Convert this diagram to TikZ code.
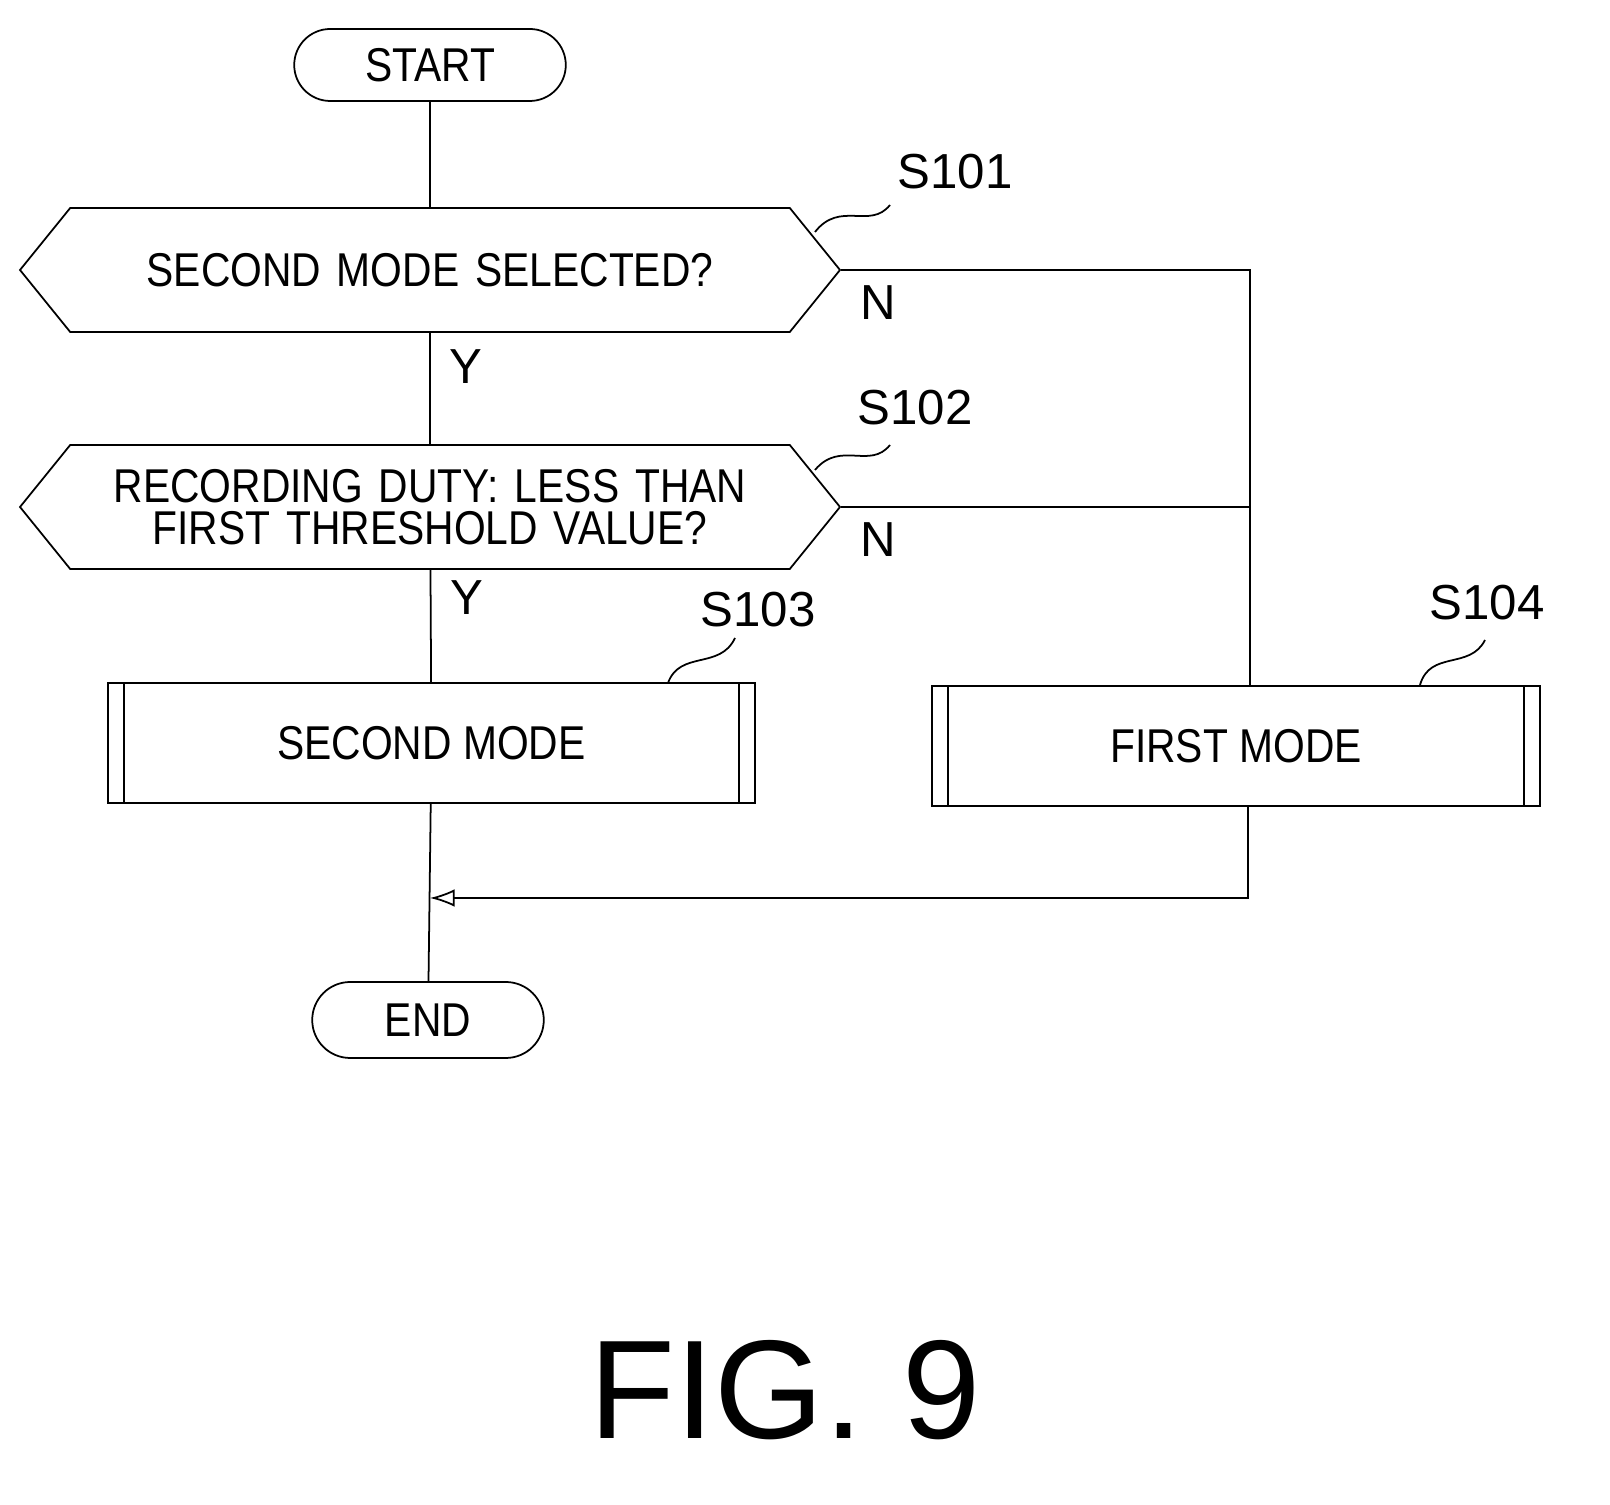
\documentclass[tikz,border=0pt]{standalone}
\usepackage{fontspec}
\setmainfont{Liberation Sans}
\newfontfamily\condfont[FakeStretch=0.86]{Liberation Sans}
\usetikzlibrary{shapes.symbols,shapes.misc,arrows.meta,positioning}
\tikzset{
	flow/.style={draw, line width=0.5pt, font=\condfont\fontsize{13.5}{14}\selectfont},
	term/.style={flow, rounded rectangle, minimum height=0.72cm},
	decide/.style={flow, signal, signal to=east and west, signal pointer angle=102,
		minimum width=8.2cm, minimum height=1.24cm, text width=6.6cm, inner sep=0pt, align=center},
	proc/.style={flow, rectangle, minimum height=1.2cm, inner sep=0pt},
	lbl/.style={font=\fontsize{14}{15}\selectfont},
	lead/.style={line width=0.5pt}
}
\begin{document}
\begin{tikzpicture}[x=1cm, y=1cm]
\useasboundingbox (0,0) rectangle (16.10,-15.05);

\node [term, minimum width=2.95cm] (start) at (4.30,-0.65) {START};
\node [decide] (q1) at (4.30,-2.70) {SECOND MODE SELECTED?};
\node [decide] (q2) at (4.30,-5.07) {RECORDING DUTY: LESS THAN\\[-2pt]FIRST THRESHOLD VALUE?};
\node [proc, minimum width=6.47cm] (m2) at (4.315,-7.43) {SECOND MODE};
\node [proc, minimum width=6.08cm] (m1) at (12.36,-7.46) {FIRST MODE};
\node [term, minimum width=2.55cm, minimum height=0.76cm] (end) at (4.28,-10.20) {END};

% double side bars of the process boxes
\foreach \b in {m2,m1}{
	\draw [lead] ([xshift=0.17cm]\b.north west) -- ([xshift=0.17cm]\b.south west);
	\draw [lead] ([xshift=-0.17cm]\b.north east) -- ([xshift=-0.17cm]\b.south east);
}

% step labels
\node [lbl] (s101) at (9.55,-1.72) {S101};
\node [lbl] (s102) at (9.15,-4.08) {S102};
\node [lbl] (s103) at (7.58,-6.10) {S103};
\node [lbl] (s104) at (14.87,-6.03) {S104};
\draw [lead] (8.15,-2.32) .. controls (8.4,-2.0) and (8.7,-2.3) .. (8.90,-2.05);
\draw [lead] (8.15,-4.70) .. controls (8.4,-4.4) and (8.7,-4.7) .. (8.90,-4.45);
\draw [lead] (6.68,-6.83) .. controls (6.8,-6.5) and (7.2,-6.7) .. (7.35,-6.38);
\draw [lead] (14.20,-6.85) .. controls (14.3,-6.5) and (14.7,-6.7) .. (14.85,-6.40);

% connectors
\coordinate (j1) at (12.50,-2.70);
\coordinate (j2) at (12.50,-5.07);
\coordinate (k1) at (12.48,-8.07);
\coordinate (mrg) at (4.30,-8.98);
\draw [lead] (start) -- (q1);
\draw [lead] (q1) -- node [lbl, right=2pt, pos=0.3] (y1) {Y} (q2);
\draw [lead] (q2) -- node [lbl, right=2pt, pos=0.25] (y2) {Y} (m2);
\draw [lead] (q1.east) -- (j1) -- (m1.north -| j1);
\draw [lead] (q2.east) -- (j2);
\node [lbl, below right=1pt and 2pt of q1.east] (n1) {N};
\node [lbl, below right=1pt and 2pt of q2.east] (n2) {N};
\draw [lead, -{Latex[open, length=7pt, width=5pt]}] (k1) |- (mrg);
\draw [lead] (m2) -- (end);

\node [font=\fontsize{40}{44}\selectfont] (fig) at (7.85,-13.90) {FIG. 9};
\end{tikzpicture}
\end{document}
